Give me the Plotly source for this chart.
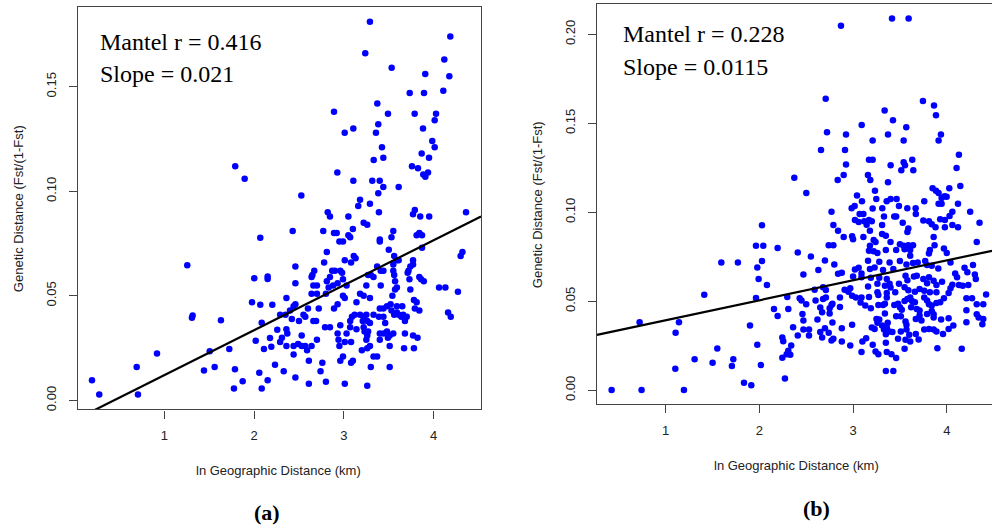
import plotly.graph_objects as go

# ---------------- Panel (a) data ----------------
a_x = [
    1.79, 1.895,
    3.29, 4.185, 3.238, 4.118, 3.532, 3.906, 4.174, 3.733, 3.892, 4.107, 3.372, 2.89, 3.491, 3.788,
    4.026, 4.011, 3.383, 3.105, 3.009, 3.357, 3.881, 3.984, 4.011, 3.424, 3.866, 3.948, 3.439, 3.332,
    3.758, 3.825, 3.884, 3.937, 3.907, 2.927, 3.105, 3.316, 3.399, 3.439, 3.61, 3.383, 2.526,
    2.069, 1.256, 2.002, 2.151, 2.151, 1.977, 2.069, 2.203, 1.316, 1.308, 1.631, 2.085, 2.258, 2.177,
    2.018, 2.192, 2.11, 1.724, 1.506, 0.919, 0.693, 1.561, 1.442, 1.787, 2.233, 2.058, 1.873, 2.151,
    1.776, 2.085, 0.195, 0.276, 0.707,
    3.18, 3.16, 3.29, 2.82, 2.845, 3.05, 3.39, 3.79, 3.77, 3.85, 3.95, 4.36,
    2.43, 2.77, 2.89, 2.92, 3.05, 3.07, 3.22, 3.26, 3.10, 3.40, 3.40, 3.55, 3.53, 3.81, 3.84, 3.87,
    2.95, 2.99, 2.81, 3.50, 3.56, 3.59, 3.87, 4.32, 4.30,
    2.78, 3.01, 3.08, 3.11, 3.13, 3.37, 3.41, 3.55, 3.61, 3.77, 3.77,
    2.46, 2.67, 2.65, 2.64, 2.87, 2.90, 2.96, 2.98, 2.845, 2.81, 2.99, 3.30, 3.27, 3.33, 3.44, 3.55,
    3.56, 3.72, 3.74, 3.71, 3.73, 3.84, 3.86, 3.89, 2.46,
    2.66, 2.70, 2.83, 2.88, 3.03, 2.93, 3.25, 3.41, 3.57, 3.59, 3.57, 3.74, 4.06, 4.13, 4.27, 2.64,
    2.70, 2.80, 2.99, 3.01, 3.18, 3.22, 3.29, 3.54, 2.36,
    2.46, 2.44, 2.40, 2.60, 2.72, 2.89, 2.93, 3.14, 3.40, 3.44, 3.48, 3.52, 3.59, 3.65, 3.78, 3.81,
    3.79, 3.84, 4.16, 4.19,
    2.29, 2.35, 2.55, 2.57, 2.42, 2.50, 2.66, 2.69, 3.09, 3.07, 3.12, 3.18, 3.22, 3.25, 3.33, 3.21,
    3.26, 3.29, 3.39, 3.44, 3.46, 3.56, 3.61, 3.64, 3.66, 3.70, 3.68, 3.53, 3.59,
    2.79, 2.845, 2.96, 3.07, 3.14, 3.22, 3.23, 3.27, 3.26, 2.36, 2.37, 2.31, 2.53, 2.93, 3.03, 3.40,
    3.44, 3.48, 3.51, 3.55, 3.68, 3.77, 3.82, 2.70,
    2.29, 2.36, 2.44, 2.49, 2.53, 2.57, 2.64, 2.94, 2.95, 3.01, 3.08, 3.25, 3.29, 3.26, 3.40, 3.49,
    3.51, 3.67, 3.78, 2.59, 2.44, 3.20,
    2.99, 2.96, 3.10, 3.08, 3.33, 3.37, 3.30, 3.51, 2.61, 2.76, 2.33, 2.74,
    2.46, 2.61, 2.80, 3.01, 3.26,
]
a_y = [
    0.112, 0.106,
    0.181, 0.174, 0.166, 0.163, 0.159, 0.156, 0.155, 0.147, 0.147, 0.148, 0.142, 0.138, 0.137, 0.137,
    0.137, 0.134, 0.132, 0.130, 0.128, 0.128, 0.130, 0.124, 0.121, 0.121, 0.118, 0.116, 0.116, 0.115,
    0.112, 0.111, 0.108, 0.109, 0.107, 0.109, 0.105, 0.105, 0.105, 0.102, 0.102, 0.099, 0.098,
    0.0778, 0.0646, 0.0584, 0.0592, 0.0581, 0.047, 0.0457, 0.0457, 0.0406, 0.0395, 0.0384, 0.0371, 0.0338, 0.0299,
    0.0286, 0.0257, 0.0246, 0.0246, 0.0235, 0.0224, 0.016, 0.016, 0.0143, 0.0149, 0.0171, 0.0132, 0.0092, 0.0097,
    0.0057, 0.0057, 0.0097, 0.0029, 0.0029,
    0.096, 0.093, 0.094, 0.090, 0.088, 0.088, 0.090, 0.091, 0.089, 0.088, 0.088, 0.090,
    0.081, 0.081, 0.080, 0.080, 0.079, 0.078, 0.085, 0.084, 0.082, 0.077, 0.076, 0.081, 0.078, 0.079, 0.080, 0.079,
    0.076, 0.076, 0.071, 0.072, 0.069, 0.067, 0.073, 0.071, 0.069,
    0.066, 0.067, 0.066, 0.069, 0.068, 0.064, 0.062, 0.065, 0.067, 0.067, 0.065,
    0.064, 0.062, 0.060, 0.059, 0.062, 0.062, 0.062, 0.061, 0.059, 0.057, 0.058, 0.060, 0.060, 0.059, 0.062, 0.062,
    0.060, 0.062, 0.064, 0.061, 0.058, 0.059, 0.058, 0.057, 0.056,
    0.055, 0.055, 0.054, 0.055, 0.055, 0.056, 0.055, 0.055, 0.057, 0.054, 0.053, 0.053, 0.054, 0.054, 0.052, 0.051,
    0.051, 0.051, 0.050, 0.049, 0.051, 0.050, 0.049, 0.050, 0.049,
    0.046, 0.045, 0.043, 0.044, 0.044, 0.044, 0.046, 0.047, 0.044, 0.044, 0.045, 0.046, 0.045, 0.045, 0.048, 0.047,
    0.044, 0.043, 0.042, 0.040,
    0.041, 0.041, 0.041, 0.040, 0.039, 0.038, 0.038, 0.038, 0.040, 0.038, 0.041, 0.041, 0.040, 0.041, 0.041, 0.038,
    0.038, 0.037, 0.040, 0.040, 0.037, 0.041, 0.041, 0.040, 0.041, 0.040, 0.038, 0.043, 0.042,
    0.035, 0.035, 0.036, 0.035, 0.034, 0.035, 0.033, 0.033, 0.031, 0.034, 0.032, 0.030, 0.031, 0.032, 0.032, 0.032,
    0.032, 0.033, 0.031, 0.032, 0.032, 0.031, 0.030, 0.029,
    0.028, 0.026, 0.026, 0.027, 0.026, 0.026, 0.026, 0.029, 0.026, 0.028, 0.028, 0.029, 0.026, 0.025, 0.029, 0.030,
    0.026, 0.025, 0.025, 0.024, 0.022, 0.024,
    0.021, 0.019, 0.019, 0.018, 0.021, 0.021, 0.016, 0.016, 0.019, 0.018, 0.014, 0.014,
    0.011, 0.008, 0.009, 0.008, 0.007,
]
a_intercept = -0.0094
a_slope = 0.0215

# ---------------- Panel (b) data ----------------
b_x = [
    2.871, 3.416, 3.593, 2.708, 3.746, 3.864, 3.885, 3.337, 3.426, 3.092, 3.568, 2.722, 2.925, 3.373, 3.938, 3.913,
    3.209, 3.540, 2.658, 2.914, 4.130, 3.170, 3.209, 2.925, 3.401, 3.540, 3.554, 3.515, 3.632, 3.643, 4.105, 2.373,
    2.900, 2.836, 3.159, 3.184, 3.373, 2.501, 3.234, 3.042, 3.849, 3.885, 3.913, 4.027, 4.145, 3.095, 3.248, 3.359,
    3.401, 3.465, 3.760, 3.945, 3.977, 3.999, 3.913, 3.945, 4.120, 3.017, 2.985, 3.209, 3.312, 3.490, 3.579, 3.668,
    2.028, 1.964, 2.042, 2.195, 1.594, 1.771, 2.028, 1.978, 1.992, 2.081, 1.412, 1.964, 2.298, 2.156, 2.309, 2.195,
    0.722, 1.142, 1.900, 1.106, 2.245, 2.255, 1.978, 1.551, 2.309, 2.291, 2.245, 1.309, 1.722, 1.501, 1.707, 2.017,
    1.103, 2.273, 1.836, 1.914, 0.423, 0.743, 1.195,
    3.07, 3.11, 3.67, 4.06, 4.03, 4.25, 2.77, 3.33, 3.44, 3.46,
    3.02, 3.06, 3.12, 3.17, 3.20, 3.145, 2.79, 2.84, 2.90, 2.99, 3.00, 3.18, 3.31, 3.31, 3.35, 3.53,
    3.59, 3.58, 3.75, 3.81, 3.84, 3.88, 3.93, 3.98, 3.98, 4.06, 4.12, 4.35,
    3.11, 3.22, 3.24, 3.40, 3.50, 3.54, 3.59, 3.64, 3.55, 3.61, 3.86, 3.87, 3.82, 3.81, 3.97, 4.00,
    4.32, 2.74, 2.79, 2.41, 2.55, 3.18, 3.17, 3.22, 3.26, 3.35, 3.46, 3.61,
    2.70, 2.80, 2.63, 2.47, 2.84, 2.88, 3.02, 3.06, 3.09, 3.16, 3.18, 3.23, 3.28, 3.32, 3.39, 3.43,
    3.50, 3.57, 3.64, 3.69, 3.77, 3.79, 3.84, 3.91, 4.04, 4.19, 4.28, 4.09, 4.11, 4.22, 4.30, 4.31,
    3.00, 3.09, 3.19, 3.28, 3.26, 3.36, 3.39, 3.56, 3.58, 3.65, 3.68, 3.75, 3.81, 3.79, 3.86, 3.89,
    3.95, 3.49, 3.55, 3.40, 3.34, 3.16, 2.97, 2.91, 2.68, 2.71, 2.59, 4.06, 4.13, 4.17, 4.23, 4.04,
    2.43, 2.45, 2.60, 2.68, 2.71, 2.78, 2.86, 2.95, 2.99, 3.03, 3.09, 3.17, 3.26, 3.27, 3.36, 3.36,
    3.45, 3.59, 3.66, 3.71, 3.76, 3.82, 3.89, 3.97, 4.02, 4.27, 4.42, 4.21, 3.61, 3.63, 3.76,
    2.50, 2.65, 2.77, 2.86, 2.67, 2.75, 2.75, 3.08, 3.13, 3.19, 3.27, 3.32, 3.34, 3.44, 3.48, 3.50,
    3.55, 3.58, 3.66, 3.79, 3.81, 3.84, 3.89, 3.93, 3.84, 3.71, 3.68, 3.62, 3.52, 4.32, 4.39, 4.21,
    4.32, 4.34, 4.39,
    2.46, 2.47, 2.62, 2.78, 2.70, 2.99, 3.28, 3.34, 3.25, 3.26, 3.31, 3.37, 3.36, 3.46, 3.51, 3.56,
    3.57, 3.67, 3.73, 3.71, 3.79, 3.86, 3.86, 3.94, 4.02, 4.07, 4.21, 4.38,
    2.36, 2.41, 2.47, 2.53, 2.53, 2.65, 2.67, 2.74, 2.77, 2.79, 2.88, 2.88, 2.97, 3.10, 3.14, 3.20,
    3.23, 3.33, 3.39, 3.42, 3.35, 3.35, 3.48, 3.51, 3.57, 3.60, 3.56, 3.61, 3.67, 3.70, 3.76, 3.81,
    3.86, 3.89, 3.96, 4.02,
    2.34, 2.33, 3.09, 3.21, 3.24, 3.27, 3.36, 3.41, 3.46, 3.55, 3.90, 4.16, 3.35, 3.43,
]
b_y = [
    0.2049, 0.2089, 0.2089, 0.1639, 0.1626, 0.1600, 0.1545, 0.1572, 0.1518, 0.1491, 0.1478, 0.1450, 0.1437, 0.1437, 0.1437, 0.1404,
    0.1404, 0.1404, 0.1350, 0.1350, 0.1323, 0.1295, 0.1295, 0.1269, 0.1264, 0.1282, 0.1264, 0.1236, 0.1295, 0.1236, 0.1249, 0.1195,
    0.1210, 0.1182, 0.1210, 0.1182, 0.1169, 0.1109, 0.1122, 0.1094, 0.1135, 0.1122, 0.1109, 0.1135, 0.1148, 0.1062, 0.1075, 0.1062,
    0.1075, 0.1075, 0.1062, 0.1081, 0.1090, 0.1088, 0.1049, 0.1049, 0.1049, 0.1036, 0.1023, 0.1021, 0.1023, 0.1036, 0.1023, 0.1023,
    0.0927, 0.0812, 0.0812, 0.0799, 0.0718, 0.0718, 0.0726, 0.0690, 0.0625, 0.0592, 0.0537, 0.0519, 0.0524, 0.0457, 0.0457, 0.0418,
    0.0382, 0.0382, 0.0364, 0.0323, 0.0297, 0.0276, 0.0256, 0.0235, 0.0222, 0.0203, 0.0183, 0.0175, 0.0175, 0.0155, 0.0136, 0.0142,
    0.0121, 0.0067, 0.0043, 0.0028, 0.0002, 0.0002, 0.0002,
    0.0991, 0.0991, 0.0991, 0.1004, 0.0980, 0.1004, 0.1004, 0.0976, 0.0976, 0.0976,
    0.0957, 0.0946, 0.0950, 0.0957, 0.0950, 0.0931, 0.0929, 0.0896, 0.0862, 0.0866, 0.0849, 0.0896, 0.0929, 0.0879, 0.0868, 0.0942,
    0.0909, 0.0890, 0.0954, 0.0950, 0.0933, 0.0916, 0.0961, 0.0957, 0.0916, 0.0929, 0.0916, 0.0942,
    0.0862, 0.0845, 0.0834, 0.0834, 0.0821, 0.0812, 0.0815, 0.0815, 0.0793, 0.0789, 0.0862, 0.0815, 0.0788, 0.0769, 0.0797, 0.0771,
    0.0834, 0.0815, 0.0815, 0.0774, 0.0752, 0.0812, 0.0784, 0.0782, 0.0771, 0.0789, 0.0789, 0.0756,
    0.0730, 0.0707, 0.0676, 0.0651, 0.0655, 0.0661, 0.0679, 0.0689, 0.0657, 0.0728, 0.0681, 0.0690, 0.0722, 0.0676, 0.0718, 0.0681,
    0.0726, 0.0707, 0.0715, 0.0718, 0.0726, 0.0704, 0.0700, 0.0685, 0.0718, 0.0689, 0.0704, 0.0657, 0.0635, 0.0663, 0.0651, 0.0625,
    0.0640, 0.0635, 0.0633, 0.0633, 0.0599, 0.0625, 0.0599, 0.0644, 0.0618, 0.0640, 0.0644, 0.0625, 0.0635, 0.0601, 0.0616, 0.0592,
    0.0610, 0.0599, 0.0579, 0.0577, 0.0588, 0.0584, 0.0573, 0.0565, 0.0579, 0.0564, 0.0565, 0.0593, 0.0592, 0.0588, 0.0592, 0.0573,
    0.0517, 0.0504, 0.0504, 0.0513, 0.0521, 0.0487, 0.0521, 0.0554, 0.0532, 0.0521, 0.0521, 0.0524, 0.0551, 0.0536, 0.0547, 0.0521,
    0.0551, 0.0562, 0.0554, 0.0569, 0.0560, 0.0551, 0.0551, 0.0517, 0.0547, 0.0517, 0.0539, 0.0517, 0.0521, 0.0502, 0.0521,
    0.0483, 0.0465, 0.0480, 0.0468, 0.0439, 0.0461, 0.0431, 0.0493, 0.0476, 0.0461, 0.0480, 0.0480, 0.0487, 0.0480, 0.0487, 0.0467,
    0.0502, 0.0513, 0.0495, 0.0504, 0.0483, 0.0476, 0.0491, 0.0495, 0.0446, 0.0448, 0.0457, 0.0467, 0.0452, 0.0483, 0.0483, 0.0450,
    0.0427, 0.0409, 0.0401,
    0.0429, 0.0392, 0.0398, 0.0381, 0.0349, 0.0368, 0.0398, 0.0431, 0.0401, 0.0379, 0.0364, 0.0379, 0.0353, 0.0416, 0.0416, 0.0386,
    0.0368, 0.0401, 0.0392, 0.0420, 0.0429, 0.0427, 0.0409, 0.0398, 0.0405, 0.0364, 0.0383, 0.0371,
    0.0355, 0.0308, 0.0342, 0.0342, 0.0308, 0.0327, 0.0297, 0.0323, 0.0280, 0.0289, 0.0349, 0.0274, 0.0252, 0.0274, 0.0293, 0.0353,
    0.0345, 0.0342, 0.0330, 0.0327, 0.0315, 0.0267, 0.0289, 0.0330, 0.0342, 0.0312, 0.0284, 0.0274, 0.0317, 0.0286, 0.0342, 0.0345,
    0.0342, 0.0330, 0.0317, 0.0345,
    0.0252, 0.0200, 0.0215, 0.0256, 0.0218, 0.0203, 0.0215, 0.0203, 0.0181, 0.0233, 0.0237, 0.0233, 0.0108, 0.0108,
]
b_intercept = 0.0282
b_slope = 0.0112

# axis settings
a_xrange = [0.039, 4.527]
a_yrange = [-0.0043, 0.1881]
b_xrange = [0.267, 4.483]
b_yrange = [-0.0078, 0.2171]
x_ticks = [1, 2, 3, 4]
a_yticks = [0.0, 0.05, 0.10, 0.15]
a_yticktext = ["0.00", "0.05", "0.10", "0.15"]
b_yticks = [0.0, 0.05, 0.10, 0.15, 0.20]
b_yticktext = ["0.00", "0.05", "0.10", "0.15", "0.20"]

BLUE = "#0000FF"
sans = "Arial, Liberation Sans, sans-serif"
serif = "Times New Roman, Liberation Serif, serif"

fig = go.Figure()
fig.add_trace(go.Scatter(x=a_x, y=a_y, mode="markers", xaxis="x", yaxis="y",
                         marker=dict(color=BLUE, size=6.5, line=dict(width=0)), showlegend=False))
fig.add_trace(go.Scatter(x=a_xrange, y=[a_intercept + a_slope * v for v in a_xrange], mode="lines",
                         xaxis="x", yaxis="y", line=dict(color="black", width=2.2), showlegend=False))
fig.add_trace(go.Scatter(x=b_x, y=b_y, mode="markers", xaxis="x2", yaxis="y2",
                         marker=dict(color=BLUE, size=6.5, line=dict(width=0)), showlegend=False))
fig.add_trace(go.Scatter(x=b_xrange, y=[b_intercept + b_slope * v for v in b_xrange], mode="lines",
                         xaxis="x2", yaxis="y2", line=dict(color="black", width=2.2), showlegend=False))

common = dict(showgrid=False, zeroline=False, showline=True, linecolor="#444", linewidth=1.3,
              ticks="outside", ticklen=8, tickwidth=1, tickcolor="#444",
              tickfont=dict(family=sans, size=13, color="#222"))

fig.update_layout(
    width=992, height=530, margin=dict(l=0, r=0, t=0, b=0),
    paper_bgcolor="white", plot_bgcolor="white",
    xaxis=dict(domain=[0.0786, 0.4849], range=a_xrange, tickvals=x_ticks, anchor="y", mirror=True,
               ticklabelstandoff=6, **common),
    yaxis=dict(domain=[0.2245, 0.9868], range=a_yrange, tickvals=a_yticks, ticktext=a_yticktext,
               tickangle=-90, anchor="x", mirror=True, ticklabelstandoff=8, **common),
    xaxis2=dict(domain=[0.6018, 1.0], range=b_xrange, tickvals=x_ticks, anchor="y2", mirror=True,
                ticklabelstandoff=6, **common),
    yaxis2=dict(domain=[0.2345, 0.9925], range=b_yrange, tickvals=b_yticks, ticktext=b_yticktext,
                tickangle=-90, anchor="x2", mirror=False, ticklabelstandoff=8, **common),
)

ann = []
def txt(text, x, y, size, family, xanchor="center", angle=0, color="black"):
    ann.append(dict(text=text, x=x, y=y, xref="paper", yref="paper", xanchor=xanchor, yanchor="middle",
                    showarrow=False, textangle=angle, font=dict(family=family, size=size, color=color)))

txt("Mantel r = 0.416", 0.0988, 0.9208, 24, serif, "left")
txt("Slope = 0.021", 0.0988, 0.8604, 24, serif, "left")
txt("Mantel r = 0.228", 0.6257, 0.9358, 24, serif, "left")
txt("Slope = 0.0115", 0.6257, 0.8736, 24, serif, "left")
txt("ln Geographic Distance (km)", 0.2812, 0.1094, 13, sans, color="#222")
txt("ln Geographic Distance (km)", 0.8034, 0.1189, 13, sans, color="#222")
txt("Genetic Distance (Fst/(1-Fst)", 0.0181, 0.6057, 13, sans, angle=-90, color="#222")
txt("Genetic Distance (Fst/(1-Fst)", 0.5413, 0.6132, 13, sans, angle=-90, color="#222")
txt("<b>(a)</b>", 0.2692, 0.0302, 22, serif)
txt("<b>(b)</b>", 0.8226, 0.0377, 22, serif)
fig.update_layout(annotations=ann)

fig.write_html("out.html")
